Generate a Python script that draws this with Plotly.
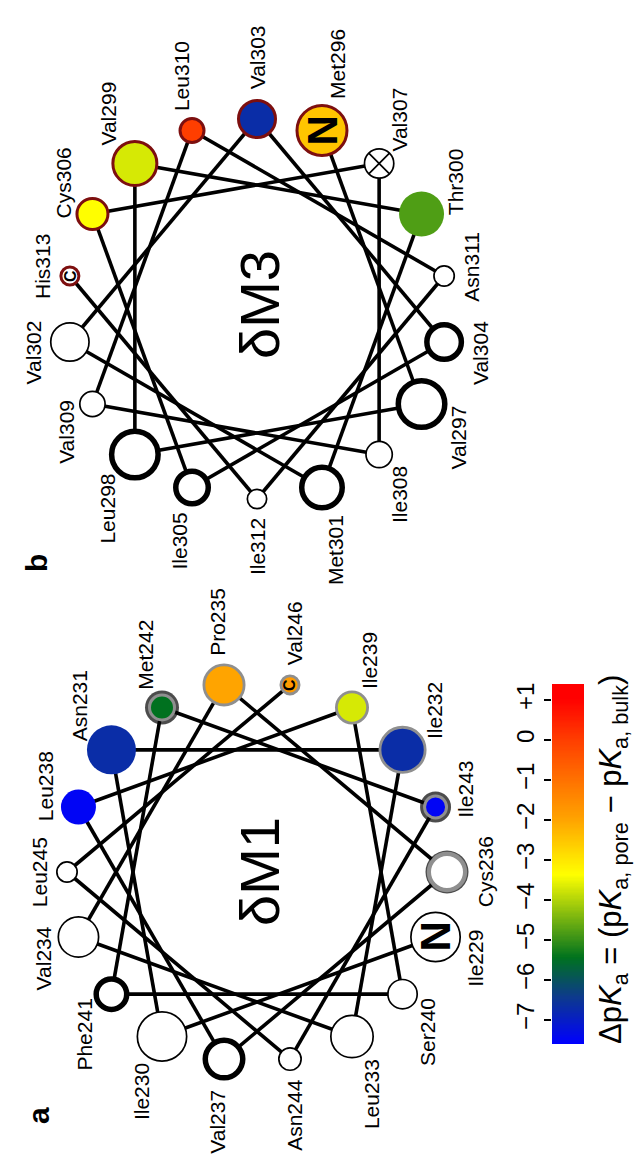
import numpy as np
import plotly.graph_objects as go

# ── Data ───────────────────────────────────────────────────────────────
# delta-M1 helix (panel a)
M1_NAMES = ["Ile", "Ile", "Asn", "Ile", "Leu", "Val", "Pro", "Cys", "Val",
            "Leu", "Ile", "Ser", "Phe", "Met", "Ile", "Asn", "Leu", "Val"]
M1_NUMBERS = [229, 230, 231, 232, 233, 234, 235, 236, 237,
              238, 239, 240, 241, 242, 243, 244, 245, 246]
M1_DPKA = [None, None, -6.7, -6.7, None, None, -2.0, None, None,
           -7.5, -3.7, None, None, -5.45, -7.5, None, None, -1.8]
M1_MARKS = ["N", "", "", "", "", "", "", "", "",
            "", "", "", "", "", "", "", "", "C"]

# delta-M3 helix (panel b)
M3_NAMES = ["Met", "Val", "Leu", "Val", "Thr", "Met", "Val", "Val", "Val",
            "Ile", "Cys", "Val", "Ile", "Val", "Leu", "Asn", "Ile", "His"]
M3_NUMBERS = [296, 297, 298, 299, 300, 301, 302, 303, 304,
              305, 306, 307, 308, 309, 310, 311, 312, 313]
M3_DPKA = [-2.5, None, None, -3.7, -4.8, None, None, -6.7, None,
           None, -3.35, None, None, None, 0.0, None, None, None]
M3_MARKS = ["N", "", "", "", "", "", "", "", "",
            "", "", "", "", "", "", "", "", "C"]

CB_RANGE = [-7.6, 1.4]
CB_TICKS = [-7, -6, -5, -4, -3, -2, -1, 0, 1]
CB_TICKTEXT = ["\u22127", "\u22126", "\u22125", "\u22124", "\u22123",
               "\u22122", "\u22121", "0", "+1"]

# ── Styles ─────────────────────────────────────────────────────────────
M1_RADIUS = [25.5, 25.5, 24.5, 24, 22, 21, 21.5, 21.5, 21.5,
             17.5, 17, 15.5, 18, 17, 15.5, 12, 11, 10.5]
M1_BORDER = ["thin", "thin", "none", "gray", "thin", "thin", "gray", "grayring", "thick",
             "none", "gray", "thin", "thick", "dbl", "dbl", "thin", "thin", "gray"]
M3_RADIUS = [26.5, 26, 26, 23.5, 22.5, 23, 20, 20, 20,
             19, 17, 15.5, 14, 13.5, 13.5, 11, 10.5, 10.5]
M3_BORDER = ["red", "thick", "thick", "red", "none", "thick", "thin", "red", "thick",
             "thick", "red", "x", "thin", "thin", "red", "thin", "thin", "red"]

BORDERS = {
    "thin": dict(color="black", width=1.7, ring=0),
    "thick": dict(color="black", width=5.5, ring=0),
    "none": dict(color="rgba(0,0,0,0)", width=0, ring=0),
    "gray": dict(color="#8f8f8f", width=2.8, ring=0),
    "grayring": dict(color="#8f8f8f", width=4.2, ring=1.3),
    "dbl": dict(color="#8f8f8f", width=3.0, ring=3.0),
    "red": dict(color="#7d0f0f", width=3.0, ring=0),
    "x": dict(color="black", width=1.7, ring=0),
}

COLORSCALE = [
    [0.0, "#0000ff"],
    [0.13, "#0d3a8c"],
    [0.24, "#00721e"],
    [0.47, "#ffff00"],
    [0.62, "#ffa500"],
    [0.84, "#ff4000"],
    [0.96, "#ff0000"],
    [1.0, "#ff0000"],
]

FONT = "Liberation Sans"
W, H = 643, 1158
WHEEL_R = 190
STEP = 100          # degrees per residue on a helical wheel
LABEL_SIZE = 21
LABEL_GAP = 9

CHAR_W = {"A": .667, "C": .722, "H": .722, "I": .278, "L": .556, "M": .833,
          "P": .667, "S": .667, "T": .611, "V": .667, "a": .556, "e": .556,
          "h": .556, "i": .222, "l": .222, "n": .556, "o": .556, "r": .333,
          "s": .5, "t": .278, "u": .556, "y": .5}


def text_length(s, size):
    return sum(CHAR_W.get(c, 0.556) for c in s) * size


def build_wheel(center, start, names, numbers, dpka, marks, radius, border):
    cx, cy = center
    theta = np.radians(start - STEP * np.arange(len(names)))
    ux, uy = np.cos(theta), -np.sin(theta)
    xs = cx + WHEEL_R * ux
    ys = cy + WHEEL_R * uy

    traces, notes = [], []

    # ── Chords between consecutive residues ─────────────────────────────
    lx, ly = [], []
    for i in range(len(names) - 1):
        lx.extend([xs[i], xs[i + 1], None])
        ly.extend([ys[i], ys[i + 1], None])
    traces.append(go.Scatter(x=lx, y=ly, mode="lines",
                             line=dict(color="black", width=3.6),
                             hoverinfo="skip", showlegend=False))

    # ── Black outer rings (double-bordered residues) ───────────────────
    ring_idx = [i for i, b in enumerate(border) if BORDERS[b]["ring"] > 0]
    traces.append(go.Scatter(
        x=xs[ring_idx], y=ys[ring_idx], mode="markers",
        marker=dict(color="black", size=[2 * radius[i] for i in ring_idx],
                    line=dict(width=0)),
        hoverinfo="skip", showlegend=False))

    def sizes(idx):
        out = []
        for i in idx:
            st = BORDERS[border[i]]
            out.append(2 * (radius[i] - st["ring"]) - st["width"])
        return out

    colored = [i for i, v in enumerate(dpka) if v is not None]
    plain = [i for i, v in enumerate(dpka) if v is None]

    traces.append(go.Scatter(
        x=xs[colored], y=ys[colored], mode="markers",
        marker=dict(color=[dpka[i] for i in colored], colorscale=COLORSCALE,
                    cmin=CB_RANGE[0], cmax=CB_RANGE[1], showscale=False,
                    size=sizes(colored), opacity=1,
                    line=dict(color=[BORDERS[border[i]]["color"] for i in colored],
                              width=[BORDERS[border[i]]["width"] for i in colored])),
        text=[f"{names[i]}{numbers[i]}: {dpka[i]}" for i in colored],
        hoverinfo="text", showlegend=False))

    traces.append(go.Scatter(
        x=xs[plain], y=ys[plain], mode="markers",
        marker=dict(color="white", size=sizes(plain), opacity=1,
                    symbol=["circle-x" if border[i] == "x" else "circle" for i in plain],
                    line=dict(color=[BORDERS[border[i]]["color"] for i in plain],
                              width=[BORDERS[border[i]]["width"] for i in plain])),
        text=[f"{names[i]}{numbers[i]}" for i in plain],
        hoverinfo="text", showlegend=False))

    # ── Residue labels, pushed radially outward ─────────────────────────
    for i in range(len(names)):
        label = f"{names[i]}{numbers[i]}"
        half_len = text_length(label, LABEL_SIZE) / 2
        half_cap = 0.37 * LABEL_SIZE
        d = WHEEL_R + radius[i] + LABEL_GAP
        tx = cx + d * ux[i] + half_cap * ux[i]
        ty = cy + d * uy[i] + half_len * uy[i]
        notes.append(dict(x=tx, y=ty, text=label, textangle=-90,
                          showarrow=False, xanchor="center", yanchor="middle",
                          font=dict(family=FONT, size=LABEL_SIZE, color="black")))
        if marks[i]:
            size = 42 if marks[i] == "N" else 16
            notes.append(dict(x=xs[i], y=ys[i], text=f"<b>{marks[i]}</b>",
                              textangle=-90, showarrow=False,
                              xanchor="center", yanchor="middle",
                              font=dict(family=FONT, size=size, color="black")))
    return traces, notes


tr_a, an_a = build_wheel((249, 864), -20, M1_NAMES, M1_NUMBERS, M1_DPKA,
                         M1_MARKS, M1_RADIUS, M1_BORDER)
tr_b, an_b = build_wheel((249, 301), 70, M3_NAMES, M3_NUMBERS, M3_DPKA,
                         M3_MARKS, M3_RADIUS, M3_BORDER)

# ── Colour bar drawn as a heatmap on its own axis ──────────────────────
cb_vals = np.linspace(CB_RANGE[0], CB_RANGE[1], 300)
cb_trace = go.Heatmap(
    x=[0], y=cb_vals, z=[[v] for v in cb_vals],
    colorscale=COLORSCALE, zmin=CB_RANGE[0], zmax=CB_RANGE[1],
    showscale=False, hoverinfo="skip", xaxis="x2", yaxis="y2",
)

fig = go.Figure(data=tr_a + tr_b + [cb_trace])

notes = an_a + an_b
notes += [
    dict(x=251, y=864, text="\u03b4M1", textangle=-90, showarrow=False,
         font=dict(family=FONT, size=56, color="black")),
    dict(x=251, y=297, text="\u03b4M3", textangle=-90, showarrow=False,
         font=dict(family=FONT, size=56, color="black")),
    dict(x=30, y=1108, text="<b>a</b>", textangle=-90, showarrow=False,
         font=dict(family=FONT, size=30, color="black")),
    dict(x=28, y=555, text="<b>b</b>", textangle=-90, showarrow=False,
         font=dict(family=FONT, size=30, color="black")),
    dict(x=605, y=852,
         text="\u0394p<i>K</i><sub>a</sub> = (p<i>K</i><sub>a, pore</sub> "
              "\u2212 p<i>K</i><sub>a, bulk</sub>)",
         textangle=-90, showarrow=False,
         font=dict(family=FONT, size=31, color="black")),
]

fig.update_layout(
    width=W, height=H,
    margin=dict(l=0, r=0, t=0, b=0),
    paper_bgcolor="white", plot_bgcolor="white",
    showlegend=False,
    font=dict(family=FONT),
    xaxis=dict(range=[0, W], domain=[0, 1], visible=False, fixedrange=True),
    yaxis=dict(range=[H, 0], domain=[0, 1], visible=False, fixedrange=True),
    xaxis2=dict(domain=[544 / W, 576 / W], range=[-0.5, 0.5], anchor="y2",
                visible=False),
    yaxis2=dict(domain=[1 - 1036 / H, 1 - 676 / H], range=CB_RANGE, anchor="x2",
                side="left", ticks="outside", ticklen=7, tickwidth=2,
                tickcolor="black", tickvals=CB_TICKS, ticktext=CB_TICKTEXT,
                tickangle=-90, tickfont=dict(family=FONT, size=24, color="black"),
                showgrid=False, zeroline=False, showline=False),
    annotations=notes,
)

fig.write_html("out.html")
